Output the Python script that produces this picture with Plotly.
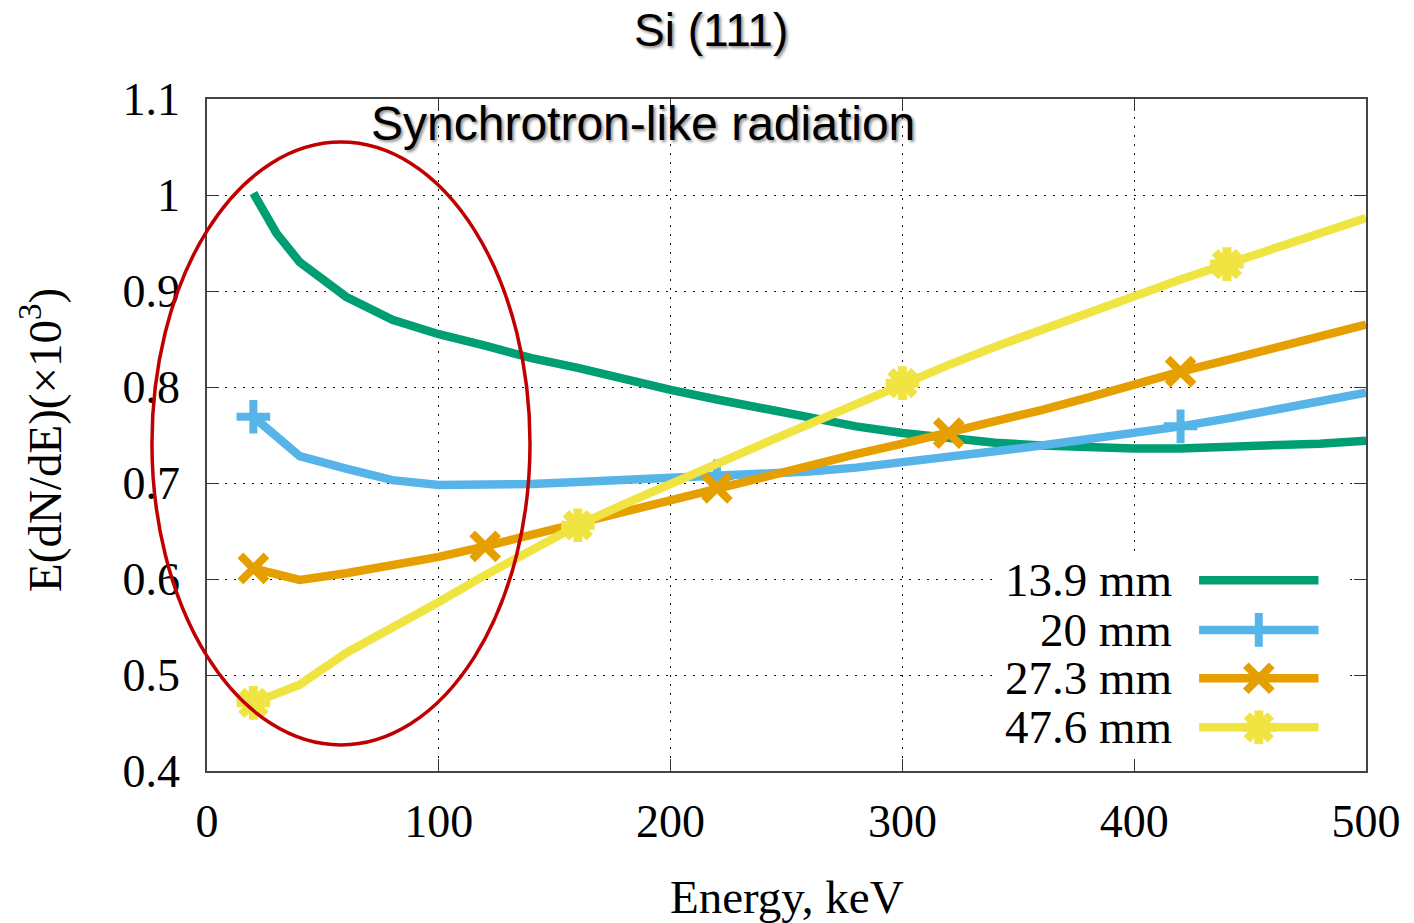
import plotly.graph_objects as go

# ---------------- data ----------------
energy = [20, 40, 60, 80, 100, 120, 140, 160, 180, 200, 220, 240, 260, 280, 300,
          320, 340, 360, 380, 400, 420, 440, 460, 480, 500]
energy_139 = [20, 30, 40, 50, 60, 80, 100, 120, 140, 160, 180, 200, 220, 240, 260,
              280, 300, 320, 340, 360, 380, 400, 420, 440, 460, 480, 500]
y_139 = [1.002, 0.960, 0.930, 0.911, 0.894, 0.870, 0.855, 0.843, 0.830, 0.820, 0.808,
         0.797, 0.787, 0.777, 0.767, 0.759, 0.752, 0.746, 0.742, 0.739, 0.737, 0.736,
         0.736, 0.737, 0.739, 0.741, 0.744]
y_20 = [0.769, 0.728, 0.715, 0.703, 0.698, 0.698, 0.699, 0.701, 0.703, 0.705, 0.707,
        0.709, 0.712, 0.716, 0.721, 0.727, 0.733, 0.739, 0.745, 0.752, 0.759, 0.767,
        0.776, 0.785, 0.794]
y_273 = [0.611, 0.599, 0.606, 0.614, 0.623, 0.634, 0.646, 0.658, 0.670, 0.682, 0.695,
         0.707, 0.720, 0.730, 0.741, 0.752, 0.764, 0.776, 0.789, 0.803, 0.816, 0.828,
         0.840, 0.852, 0.865]
y_476 = [0.471, 0.490, 0.523, 0.549, 0.576, 0.604, 0.630, 0.656, 0.678, 0.700, 0.720,
         0.741, 0.762, 0.783, 0.804, 0.823, 0.842, 0.860, 0.878, 0.895, 0.912, 0.928,
         0.944, 0.960, 0.976]

labels = ["13.9 mm", "20 mm", "27.3 mm", "47.6 mm"]
colors = ["#009e73", "#56b4e9", "#e69f00", "#f0e442"]
x_ticks = [0, 100, 200, 300, 400, 500]
y_ticks = [0.4, 0.5, 0.6, 0.7, 0.8, 0.9, 1.0, 1.1]
y_tick_text = ["0.4", "0.5", "0.6", "0.7", "0.8", "0.9", "1", "1.1"]

# (x, y, marker symbols, marker step, marker size, marker stroke)
series = [
    (energy_139, y_139, [], None, 0, 0),
    (energy, y_20, ["cross-thin"], 10, 24, 8),
    (energy, y_273, ["x-thin"], 5, 26, 8),
    (energy, y_476, ["x-thin", "cross-thin"], 7, 24, 9),
]

SERIF = "Liberation Serif, Times New Roman, serif"
SANS = "Liberation Sans, Arial, sans-serif"
LW = 8.5

fig = go.Figure()

for (xs, ys, syms, step, msize, mw), lab, col in zip(series, labels, colors):
    fig.add_trace(go.Scatter(x=xs, y=ys, mode="lines", name=lab,
                             line=dict(color=col, width=LW), showlegend=False))
    for sym in syms:
        fig.add_trace(go.Scatter(x=xs[::step], y=ys[::step], mode="markers",
                                 showlegend=False, cliponaxis=False,
                                 marker=dict(symbol=sym, size=msize, color=col,
                                             line=dict(color=col, width=mw))))

# ---------------- custom gnuplot-style key (text left, sample right) ----------------
key_rows = [0.284, 0.210, 0.138, 0.065]
key_x0, key_x1, key_text_x = 0.856, 0.959, 0.834
for (xs, ys, syms, step, msize, mw), lab, col, ry in zip(series, labels, colors, key_rows):
    fig.add_trace(go.Scatter(x=[key_x0, key_x1], y=[ry, ry], mode="lines",
                             xaxis="x2", yaxis="y2", showlegend=False,
                             line=dict(color=col, width=LW), hoverinfo="skip"))
    for sym in syms:
        fig.add_trace(go.Scatter(x=[(key_x0 + key_x1) / 2], y=[ry], mode="markers",
                                 xaxis="x2", yaxis="y2", showlegend=False,
                                 hoverinfo="skip",
                                 marker=dict(symbol=sym, size=msize, color=col,
                                             line=dict(color=col, width=mw))))
    fig.add_annotation(xref="paper", yref="paper", x=key_text_x, y=ry, text=lab,
                       showarrow=False, xanchor="right", yanchor="middle",
                       font=dict(family=SERIF, size=47, color="black"))

# white key box hiding the grid (data-referenced so it sits between grid and traces)
fig.add_shape(type="rect", xref="x", yref="y", x0=340, x1=493,
              y0=0.409, y1=0.627, fillcolor="white", line=dict(width=0),
              layer="between")

# red ellipse
fig.add_shape(type="circle", xref="paper", yref="paper", x0=-0.0475, x1=0.2787,
              y0=0.0387, y1=0.936, line=dict(color="#c00000", width=3.5),
              layer="above")

# texts
shadow = "2px 2px 3px rgba(0,0,0,0.45)"
fig.add_annotation(xref="paper", yref="paper", x=0.435, y=1.102, text="Si (111)",
                   showarrow=False, xanchor="center", yanchor="middle",
                   font=dict(family=SANS, size=46, color="black", shadow=shadow))
fig.add_annotation(xref="paper", yref="paper", x=0.3766, y=0.963,
                   text="Synchrotron-like radiation", showarrow=False,
                   xanchor="center", yanchor="middle",
                   font=dict(family=SANS, size=48, color="black", shadow=shadow))
fig.add_annotation(xref="paper", yref="paper", x=-0.1424, y=0.4926,
                   text="E(dN/dE)(\u00d710<sup>3</sup>)", textangle=-90,
                   showarrow=False, xanchor="center", yanchor="middle",
                   font=dict(family=SERIF, size=47, color="black"))
fig.add_annotation(xref="paper", yref="paper", x=0.5, y=-0.1875,
                   text="Energy, keV", showarrow=False, xanchor="center",
                   yanchor="middle", font=dict(family=SERIF, size=47, color="black"))

axis_common = dict(showline=True, linecolor="#444", linewidth=1.5, mirror="ticks",
                   ticks="inside", ticklen=12, tickwidth=1.2, tickcolor="#333",
                   showgrid=True, gridcolor="#111", griddash="2px,7px", gridwidth=1.3,
                   zeroline=False, tickfont=dict(family=SERIF, size=46, color="black"))

fig.update_layout(
    width=1414, height=923,
    margin=dict(l=207, r=48, t=99, b=152),
    paper_bgcolor="white", plot_bgcolor="white",
    showlegend=False,
    xaxis=dict(range=[0, 500], tickvals=x_ticks, ticklabelstandoff=9, **axis_common),
    yaxis=dict(range=[0.4, 1.1], tickvals=y_ticks, ticktext=y_tick_text,
               ticklabelstandoff=16, **axis_common),
    xaxis2=dict(range=[0, 1], overlaying="x", visible=False, fixedrange=True),
    yaxis2=dict(range=[0, 1], overlaying="y", visible=False, fixedrange=True),
)

fig.write_html("out.html")
